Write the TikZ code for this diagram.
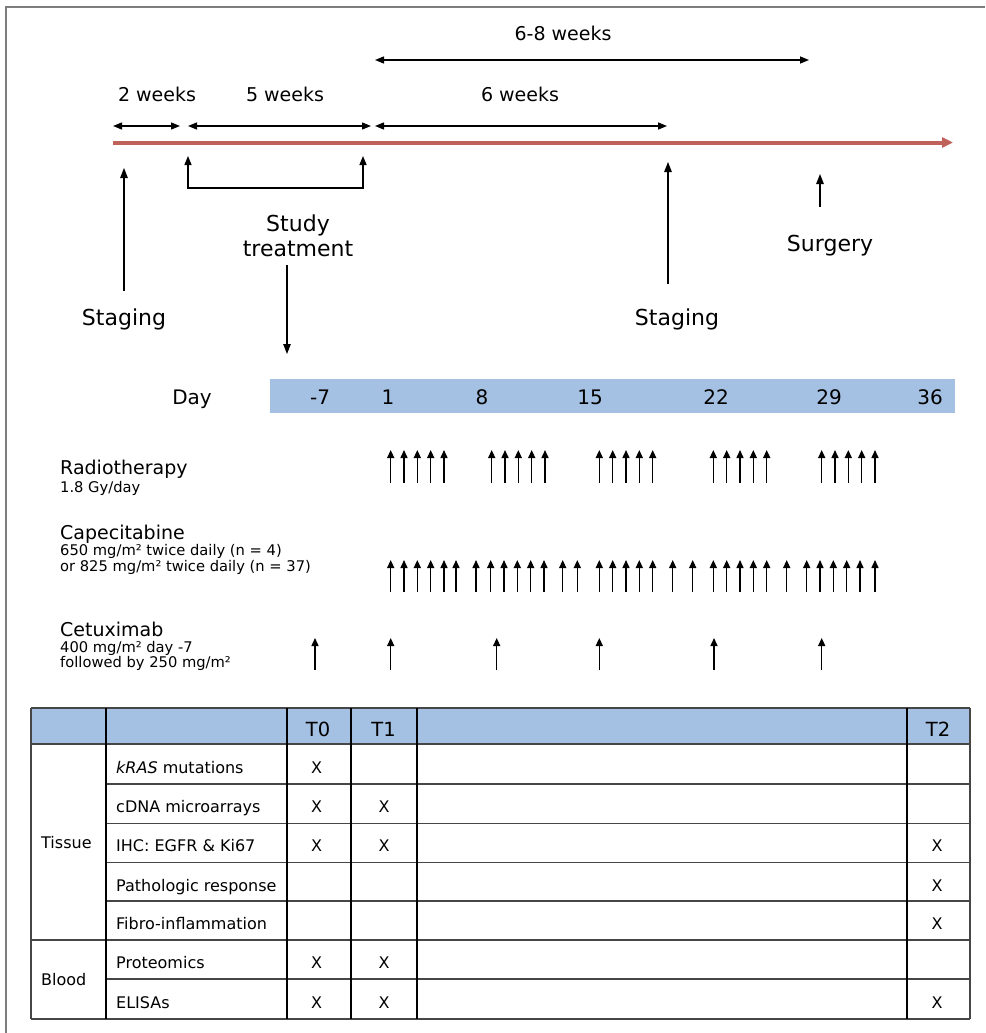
\documentclass[tikz,border=0pt]{standalone}
\usepackage{fontspec}
\setmainfont{DejaVu Sans}
\usetikzlibrary{arrows.meta, positioning}

\definecolor{timeline}{RGB}{192,98,90}
\definecolor{headblue}{RGB}{164,192,226}
\definecolor{rulegray}{RGB}{70,70,70}

\begin{document}
\begin{tikzpicture}[
    x=1pt, y=-1pt,
    every node/.style={inner sep=0pt, anchor=base},
    span/.style={{Triangle[length=9pt,width=7pt]}-{Triangle[length=9pt,width=7pt]}, line width=1.4pt},
    pointer/.style={-{Triangle[length=10pt,width=7.5pt]}, line width=1.2pt},
    dose/.style={-{Triangle[length=8pt,width=7pt]}, line width=1.5pt},
    weeks/.style={font=\fontsize{19}{22}\selectfont},
    event/.style={font=\fontsize{22}{25}\selectfont, align=center},
    daynum/.style={font=\fontsize{20}{24}\selectfont},
    drug/.style={anchor=base west, font=\fontsize{19}{22}\selectfont},
    regimen/.style={anchor=base west, font=\fontsize{14.7}{17}\selectfont},
    cell/.style={font=\fontsize{16}{19}\selectfont},
    rowhead/.style={cell, anchor=base west},
    colhead/.style={font=\fontsize{19.5}{22}\selectfont},
    thinrule/.style={draw=rulegray, line width=1.1pt},
    thickrule/.style={draw=black, line width=2pt}
]
\useasboundingbox (0,0) rectangle (985,1033);

% Frame
\draw[rulegray!70, line width=1.5pt] (6,1033) -- (6,7) -- (985,7);

% Time line
\coordinate (tstart) at (113,142.5);
\coordinate (tend) at (953,142.5);
\draw[-{Triangle[length=11pt,width=10pt]}, timeline, line width=4pt] (tstart) -- (tend);

% Intervals
\coordinate (w2a) at (113,126);
\coordinate (w2b) at (180,126);
\coordinate (w5a) at (188,126);
\coordinate (w5b) at (371,126);
\coordinate (w6a) at (375,126);
\coordinate (w6b) at (667,126);
\coordinate (w8a) at (375,60);
\coordinate (w8b) at (809,60);
\draw[span] (w2a) -- (w2b);
\draw[span] (w5a) -- (w5b);
\draw[span] (w6a) -- (w6b);
\draw[span] (w8a) -- (w8b);
\node[weeks] (w2lab) at (157,101.5) {2 weeks};
\node[weeks] (w5lab) at (285,101.5) {5 weeks};
\node[weeks] (w6lab) at (520,101.5) {6 weeks};
\node[weeks] (w8lab) at (563,40.5) {6-8 weeks};

% Bracket for study treatment
\coordinate (brL) at (188,156);
\coordinate (brLlow) at (188,188);
\coordinate (brR) at (363,156);
\draw[span] (brL) -- (brLlow) -| (brR);

% Events
\node[event] (stage1) at (124,325.5) {Staging};
\node[event] (stage2) at (677,325.5) {Staging};
\node[event] (surgery) at (830,251) {Surgery};
\node[event, anchor=center] (study) at (298,236) {Study\\treatment};

\coordinate (stage1foot) at (124,291);
\coordinate (stage1tip) at (124,168);
\coordinate (stage2foot) at (668,284);
\coordinate (stage2tip) at (668,162);
\coordinate (surgfoot) at (820,207);
\coordinate (surgtip) at (820,174);
\coordinate (studyfoot) at (287,265);
\coordinate (studytip) at (287,354);
\draw[pointer] (stage1foot) -- (stage1tip);
\draw[pointer] (stage2foot) -- (stage2tip);
\draw[pointer] (surgfoot) -- (surgtip);
\draw[pointer] (studyfoot) -- (studytip);

% Day scale
\node[fill=headblue, minimum width=685pt, minimum height=34pt, anchor=north west] (daybar) at (270,379) {};
\node[daynum] (daylab) at (192,404) {Day};
\foreach \d/\x in {-7/320,1/388,8/482,15/590,22/716,29/829,36/930}
  \node[daynum] (day\x) at (\x,404) {\d};

% Regimens
\node[drug] (radio) at (60,474) {Radiotherapy};
\node[regimen] (radiodose) at (60,492) {1.8 Gy/day};
\node[drug] (cape) at (60,539) {Capecitabine};
\node[regimen] (capedose1) at (60,555.5) {650 mg/m² twice daily (n = 4)};
\node[regimen] (capedose2) at (60,571) {or 825 mg/m² twice daily (n = 37)};
\node[drug] (cetux) at (60,636.5) {Cetuximab};
\node[regimen] (cetuxdose1) at (60,652.5) {400 mg/m² day -7};
\node[regimen] (cetuxdose2) at (60,667.5) {followed by 250 mg/m²};

\foreach \x in {390.7,404,417.3,430.7,444, 491.7,505,518.3,531.7,545,
    599.3,612.7,626,639.3,652.7, 713.3,726.7,740,753.3,766.7,
    821.7,835,848.3,861.7,875}
  \draw[dose] (\x,483) -- (\x,450);
\foreach \x in {390.7,404,417.3,430.7,444,456, 476,490.7,504,517.3,530.7,544,
    562.7,577.3, 599.3,612.7,626,639.3,652.7, 672.7,692.7,
    713.3,726.7,740,753.3,766.7, 786.7, 806.7,820,833.3,846.7,860,875}
  \draw[dose] (\x,592) -- (\x,560);
\foreach \x in {315,390.7,496.7,599.3,714,821.7}
  \draw[dose] (\x,670) -- (\x,638);

% Sampling table
\fill[headblue] (31,708) rectangle (970,744);
\foreach \y in {708,744,940,1019}
  \draw[thinrule] (31,\y) -- (970,\y);
\foreach \y in {784,823.5,862.5,901,979}
  \draw[thinrule] (106,\y) -- (970,\y);
\foreach \x in {31,970}
  \draw[thinrule] (\x,708) -- (\x,1019);
\foreach \x in {106,286.5,350.5,416.5,906.5}
  \draw[thickrule] (\x,708) -- (\x,1019);

\node[colhead] (t0) at (318,736) {T0};
\node[colhead] (t1) at (383.5,736) {T1};
\node[colhead] (t2) at (938,736) {T2};

\node[rowhead] (tissue) at (41,848) {Tissue};
\node[rowhead] (blood) at (41,985) {Blood};
\node[rowhead] (kras) at (116,773) {\textit{kRAS} mutations};
\node[rowhead] (cdna) at (116,812.5) {cDNA microarrays};
\node[rowhead] (ihc) at (116,851.5) {IHC: EGFR \& Ki67};
\node[rowhead] (patho) at (116,891) {Pathologic response};
\node[rowhead] (fibro) at (116,929.5) {Fibro-inflammation};
\node[rowhead] (prot) at (116,968.5) {Proteomics};
\node[rowhead] (elisa) at (116,1008) {ELISAs};

\foreach \n/\x/\y in {krasA/316.5/773, cdnaA/316.5/812.5, cdnaB/384/812.5,
    ihcA/316.5/851.5, ihcB/384/851.5, ihcC/937/851.5,
    pathoC/937/891, fibroC/937/929.5,
    protA/316.5/968.5, protB/384/968.5,
    elisaA/316.5/1008, elisaB/384/1008, elisaC/937/1008}
  \node[cell] (\n) at (\x,\y) {X};

\end{tikzpicture}
\end{document}
